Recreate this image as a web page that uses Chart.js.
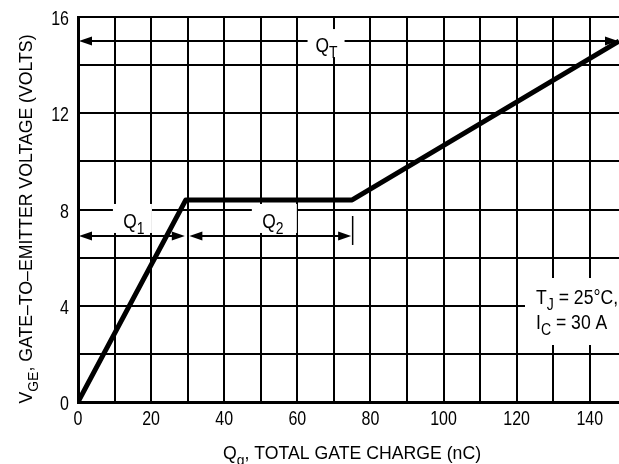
<!DOCTYPE html>
<html>
<head>
<meta charset="utf-8">
<script src="https://cdn.jsdelivr.net/npm/chart.js@4/dist/chart.umd.min.js"></script>
<style>
  html, body { margin: 0; padding: 0; background: #fff; }
  #wrap { width: 619px; height: 464px; }
</style>
</head>
<body>
<div id="wrap"><canvas id="gateChart"></canvas></div>
<script>
const FONT = '"Liberation Sans", Arial, sans-serif';

// gate charge curve
const charge = [0, 29.5, 75, 148];
const voltage = [0, 8.4, 8.4, 15];

// axis ranges
const xMin = 0, xMax = 148, xStep = 10, xLabelEvery = 20;
const yMin = 0, yMax = 16, yStep = 2, yLabelEvery = 4;

// charge-region annotations (data units)
const qtSpan = [0, 148], qtLevel = 15, qtLabelAt = 68;
const q1Span = [0, 29.5], q2Span = [30.2, 75], qLevel = 6.9;
const q1LabelAt = 15.3, q2LabelAt = 53.3;

// draws text with optional subscripts, squeezed horizontally to look condensed
function drawText(ctx, parts, x, y, size, sx, align) {
  const big = size + 'px ' + FONT, small = Math.round(size * 0.78) + 'px ' + FONT;
  let w = 0;
  parts.forEach(p => { ctx.font = p[1] ? small : big; w += ctx.measureText(p[0]).width; });
  let cx = align === 'center' ? -w / 2 : align === 'right' ? -w : 0;
  ctx.save();
  ctx.translate(x, y);
  ctx.scale(sx, 1);
  ctx.textAlign = 'left';
  ctx.textBaseline = 'alphabetic';
  parts.forEach(p => {
    ctx.font = p[1] ? small : big;
    ctx.fillText(p[0], cx, p[1] ? size * 0.3 : 0);
    cx += ctx.measureText(p[0]).width;
  });
  ctx.restore();
}

function arrowHead(ctx, x, y, dir) {
  ctx.beginPath();
  ctx.moveTo(x, y);
  ctx.lineTo(x - dir * 13, y - 4.5);
  ctx.lineTo(x - dir * 13, y + 4.5);
  ctx.closePath();
  ctx.fill();
}

function dimArrow(ctx, xs, x1, x2, py) {
  const a = xs.getPixelForValue(x1), b = xs.getPixelForValue(x2);
  ctx.lineWidth = 2;
  ctx.beginPath();
  ctx.moveTo(a + 4, py);
  ctx.lineTo(b - 4, py);
  ctx.stroke();
  arrowHead(ctx, a + 1, py, -1);
  arrowHead(ctx, b - 1, py, 1);
}

const annotations = {
  id: 'annotations',
  beforeDatasetsDraw(chart) {
    const ctx = chart.ctx, xs = chart.scales.x, ys = chart.scales.y;
    ctx.save();
    ctx.fillStyle = '#000';
    ctx.strokeStyle = '#000';

    // QT
    const qtY = ys.getPixelForValue(qtLevel);
    const qtX = xs.getPixelForValue(qtLabelAt);
    ctx.fillStyle = '#fff';
    ctx.fillRect(qtX - 19, qtY - 12, 37, 28);
    ctx.fillStyle = '#000';
    const aL = xs.getPixelForValue(qtSpan[0]), aR = xs.getPixelForValue(qtSpan[1]);
    ctx.lineWidth = 2;
    ctx.beginPath();
    ctx.moveTo(aL + 4, qtY); ctx.lineTo(qtX - 19, qtY);
    ctx.moveTo(qtX + 18, qtY); ctx.lineTo(aR - 4, qtY);
    ctx.stroke();
    arrowHead(ctx, aL + 1, qtY, -1);
    arrowHead(ctx, aR - 1, qtY, 1);
    drawText(ctx, [['Q', false], ['T', true]], qtX, qtY + 11, 20, 0.87, 'center');

    // Q1 / Q2
    const qY = ys.getPixelForValue(qLevel);
    const q1X = xs.getPixelForValue(q1LabelAt), q2X = xs.getPixelForValue(q2LabelAt);
    ctx.fillStyle = '#fff';
    ctx.fillRect(q1X - 21, qY - 32, 39, 29);
    ctx.fillRect(q2X - 21, qY - 32, 45, 29);
    ctx.fillStyle = '#000';
    dimArrow(ctx, xs, q1Span[0], q1Span[1], qY);
    dimArrow(ctx, xs, q2Span[0], q2Span[1], qY);
    const endX = xs.getPixelForValue(q2Span[1]);
    ctx.lineWidth = 1.5;
    ctx.beginPath();
    ctx.moveTo(endX + 0.5, qY - 20); ctx.lineTo(endX + 0.5, qY + 9);
    ctx.stroke();
    drawText(ctx, [['Q', false], ['1', true]], q1X, qY - 8, 20, 0.87, 'center');
    drawText(ctx, [['Q', false], ['2', true]], q2X, qY - 8, 20, 0.87, 'center');

    // conditions box
    ctx.fillStyle = '#fff';
    ctx.fillRect(525, 278, 94, 67);
    ctx.fillStyle = '#000';
    drawText(ctx, [['T', false], ['J', true], [' = 25\u00B0C,', false]], 536, 304, 20, 0.88, 'left');
    drawText(ctx, [['I', false], ['C', true], [' = 30 A', false]], 536, 329, 20, 0.88, 'left');
    ctx.restore();
  },
  afterDraw(chart) {
    const ctx = chart.ctx, xs = chart.scales.x, ys = chart.scales.y;
    ctx.save();
    ctx.fillStyle = '#000';
    // tick labels, positioned by the chart's own scales
    xs.ticks.forEach(t => {
      if (t.value % xLabelEvery !== 0) return;
      drawText(ctx, [[String(t.value), false]], xs.getPixelForValue(t.value), 425, 20, 0.8, 'center');
    });
    ys.ticks.forEach(t => {
      if (t.value % yLabelEvery !== 0) return;
      drawText(ctx, [[String(t.value), false]], 69, ys.getPixelForValue(t.value) + 8, 20, 0.8, 'right');
    });
    // axis titles
    drawText(ctx, [['Q', false], ['g', true], [', TOTAL GATE CHARGE (nC)', false]], 352, 459, 19, 0.93, 'center');
    ctx.translate(32, 219);
    ctx.rotate(-Math.PI / 2);
    drawText(ctx, [['V', false], ['GE', true], [', GATE\u2013TO\u2013EMITTER VOLTAGE (VOLTS)', false]], 0, 0, 19, 0.93, 'center');
    ctx.restore();
  }
};

new Chart(document.getElementById('gateChart'), {
  type: 'scatter',
  data: {
    datasets: [{
      data: charge.map((c, i) => ({ x: c, y: voltage[i] })),
      showLine: true,
      borderColor: '#000',
      borderWidth: 5,
      pointRadius: 0,
      tension: 0,
      borderCapStyle: 'butt',
      borderJoinStyle: 'round'
    }]
  },
  plugins: [annotations],
  options: {
    responsive: true,
    maintainAspectRatio: false,
    animation: false,
    events: [],
    layout: { padding: { top: 17, right: 0, left: 0, bottom: 0 } },
    plugins: { legend: { display: false }, tooltip: { enabled: false } },
    scales: {
      x: {
        type: 'linear',
        min: xMin, max: xMax,
        afterBuildTicks: s => {
          const t = [];
          for (let v = xMin; v <= xMax; v += xStep) t.push({ value: v });
          s.ticks = t;
        },
        afterFit: s => { s.height = 62; },
        ticks: { display: false },
        grid: { color: '#000', lineWidth: 2, drawTicks: false },
        border: { color: '#000', width: 3 }
      },
      y: {
        min: yMin, max: yMax,
        afterFit: s => { s.width = 78; },
        ticks: { stepSize: yStep, display: false },
        grid: { color: '#000', lineWidth: 2, drawTicks: false },
        border: { color: '#000', width: 3 }
      }
    }
  }
});
</script>
</body>
</html>
